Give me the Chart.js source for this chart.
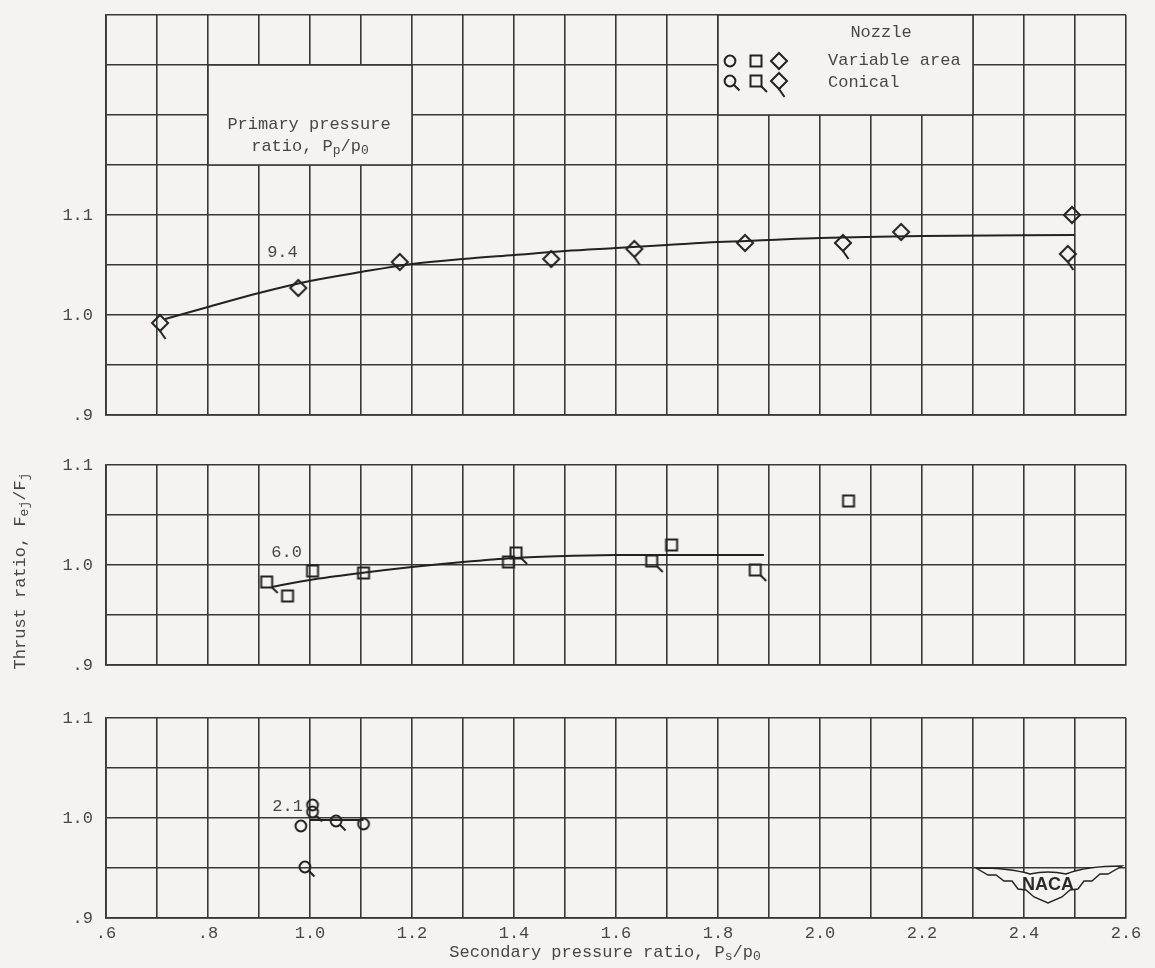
<!DOCTYPE html>
<html>
<head>
<meta charset="utf-8">
<script src="https://cdn.jsdelivr.net/npm/chart.js@4.4.0/dist/chart.umd.min.js"></script>
<style>
  html, body { margin: 0; padding: 0; background: #f6f2f1; }
  #wrap { position: relative; width: 1155px; height: 968px; overflow: hidden; }
  canvas { position: absolute; left: 0; }
</style>
</head>
<body>
<div id="wrap">
  <canvas id="top" width="1155" height="450" style="top:-10px"></canvas>
  <canvas id="mid" width="1155" height="265" style="top:425px"></canvas>
  <canvas id="bot" width="1155" height="278" style="top:690px"></canvas>
</div>
<script>
// axis ticks
const xTickValues = [0.6, 0.8, 1.0, 1.2, 1.4, 1.6, 1.8, 2.0, 2.2, 2.4, 2.6];
const xTickText = ['.6', '.8', '1.0', '1.2', '1.4', '1.6', '1.8', '2.0', '2.2', '2.4', '2.6'];
const yTickValues = [0.9, 1.0, 1.1];
const yTickText = ['.9', '1.0', '1.1'];

// primary pressure ratio 9.4 (diamonds)
const p94VarX = [0.977, 1.176, 1.473, 1.853, 2.159, 2.494];
const p94VarY = [1.027, 1.053, 1.056, 1.072, 1.083, 1.100];
const p94ConX = [0.706, 1.636, 2.045, 2.486];
const p94ConY = [0.992, 1.066, 1.072, 1.061];
const p94CurveX = [0.716, 0.8, 0.9, 1.0, 1.1, 1.2, 1.3, 1.4, 1.5, 1.6, 1.7, 1.8, 1.9, 2.0, 2.2, 2.5];
const p94CurveY = [0.996, 1.008, 1.022, 1.034, 1.043, 1.051, 1.056, 1.060, 1.064, 1.067, 1.070, 1.073, 1.075, 1.077, 1.079, 1.080];

// primary pressure ratio 6.0 (squares)
const p60VarX = [0.956, 1.005, 1.105, 1.389, 1.709, 2.056];
const p60VarY = [0.969, 0.994, 0.992, 1.003, 1.020, 1.064];
const p60ConX = [0.915, 1.404, 1.670, 1.873];
const p60ConY = [0.983, 1.012, 1.004, 0.995];
const p60CurveX = [0.925, 1.0, 1.1, 1.2, 1.3, 1.4, 1.5, 1.6, 1.7, 1.89];
const p60CurveY = [0.978, 0.985, 0.992, 0.998, 1.003, 1.007, 1.009, 1.010, 1.010, 1.010];

// primary pressure ratio 2.1 (circles)
const p21VarX = [1.005, 0.982, 1.105];
const p21VarY = [1.013, 0.992, 0.994];
const p21ConX = [1.005, 1.051, 0.990];
const p21ConY = [1.006, 0.997, 0.951];
const p21CurveX = [1.0, 1.105];
const p21CurveY = [0.998, 0.998];

const PAPER = '#f6f2f1';
const INK = '#222';
const GRID = '#383838';
const TEXT = '#474747';
const FONT = '17px "Liberation Mono"';
const SUB = '13px "Liberation Mono"';

const pts = (xs, ys) => xs.map((x, i) => ({ x: x, y: ys[i] }));

function marker(shape, tail) {
  const c = document.createElement('canvas');
  c.width = 40; c.height = 40;
  const g = c.getContext('2d');
  g.translate(20, 20);
  g.strokeStyle = INK;
  g.lineWidth = 2;
  g.beginPath();
  if (shape === 'circle') g.arc(0, 0, 5.4, 0, Math.PI * 2);
  else if (shape === 'square') g.rect(-5.5, -5.5, 11, 11);
  else { g.moveTo(0, -8); g.lineTo(8, 0); g.lineTo(0, 8); g.lineTo(-8, 0); g.closePath(); }
  g.stroke();
  if (tail) {
    g.beginPath();
    if (shape === 'circle') { g.moveTo(3.8, 3.8); g.lineTo(9.5, 9.5); }
    else if (shape === 'square') { g.moveTo(5.5, 5.5); g.lineTo(11, 11); }
    else { g.moveTo(0, 8); g.lineTo(5.5, 16); }
    g.stroke();
  }
  return c;
}

const marks = {
  circle: marker('circle', false), circleT: marker('circle', true),
  square: marker('square', false), squareT: marker('square', true),
  diamond: marker('diamond', false), diamondT: marker('diamond', true)
};

function drawParts(ctx, parts, x, y, align) {
  const w = parts.map(p => { ctx.font = p[1] ? SUB : FONT; return ctx.measureText(p[0]).width; });
  const total = w.reduce((a, b) => a + b, 0);
  let cx = align === 'center' ? x - total / 2 : (align === 'right' ? x - total : x);
  parts.forEach((p, i) => {
    ctx.font = p[1] ? SUB : FONT;
    ctx.fillText(p[0], cx, y + (p[1] ? 5 : 0));
    cx += w[i];
  });
}

const notesPlugin = {
  id: 'notes',
  beforeDatasetsDraw(chart, args, opts) {
    // grid is erased behind the legend and the label block, frame kept
    const ctx = chart.ctx, sx = chart.scales.x, sy = chart.scales.y;
    ctx.save();
    (opts.blanks || []).forEach(b => {
      const x0 = Math.round(sx.getPixelForValue(b[0])), x1 = Math.round(sx.getPixelForValue(b[1]));
      const y0 = Math.round(sy.getPixelForValue(b[3])), y1 = Math.round(sy.getPixelForValue(b[2]));
      ctx.fillStyle = PAPER;
      ctx.fillRect(x0, y0, x1 - x0, y1 - y0);
      ctx.strokeStyle = GRID;
      ctx.lineWidth = 1.6;
      ctx.strokeRect(x0, y0, x1 - x0, y1 - y0);
    });
    ctx.restore();
  },
  afterDraw(chart, args, opts) {
    const ctx = chart.ctx;
    const off = opts.offset || 0;
    ctx.save();
    ctx.fillStyle = TEXT;
    ctx.textBaseline = 'middle';
    ctx.textAlign = 'left';
    (opts.items || []).forEach(it => {
      let x = it.x, y = it.y - off;
      if (it.data) {
        x = chart.scales.x.getPixelForValue(it.x);
        y = chart.scales.y.getPixelForValue(it.y);
      }
      if (it.mark) {
        const m = marks[it.mark];
        ctx.drawImage(m, x - m.width / 2, y - m.height / 2);
      } else if (it.rotate) {
        ctx.save();
        ctx.translate(x, y);
        ctx.rotate(-Math.PI / 2);
        drawParts(ctx, it.parts, 0, 0, 'center');
        ctx.restore();
      } else {
        drawParts(ctx, it.parts, x, y, it.align || 'left');
      }
    });
    if (opts.logo) {
      // NACA wings badge
      const o = off;
      ctx.beginPath();
      ctx.moveTo(976, 868 - o);
      ctx.quadraticCurveTo(1010, 868 - o, 1030, 874 - o);
      ctx.quadraticCurveTo(1048, 870 - o, 1066, 874 - o);
      ctx.quadraticCurveTo(1086, 866 - o, 1122, 866 - o);
      ctx.lineTo(1108, 874 - o); ctx.lineTo(1100, 874 - o); ctx.lineTo(1092, 881 - o);
      ctx.lineTo(1084, 881 - o); ctx.lineTo(1078, 889 - o); ctx.lineTo(1070, 890 - o);
      ctx.lineTo(1062, 897 - o); ctx.lineTo(1048, 903 - o);
      ctx.lineTo(1034, 897 - o); ctx.lineTo(1026, 890 - o); ctx.lineTo(1018, 889 - o);
      ctx.lineTo(1012, 881 - o); ctx.lineTo(1004, 881 - o); ctx.lineTo(996, 875 - o);
      ctx.lineTo(988, 875 - o);
      ctx.closePath();
      ctx.fillStyle = PAPER;
      ctx.fill();
      ctx.strokeStyle = INK;
      ctx.lineWidth = 1.4;
      ctx.stroke();
      ctx.fillStyle = '#2a2a2a';
      ctx.font = 'bold 18px "Liberation Sans"';
      ctx.textAlign = 'center';
      ctx.fillText('NACA', 1048, 885 - o);
    }
    ctx.restore();
  }
};

function tickText(values, texts) {
  return v => {
    const i = values.findIndex(t => Math.abs(t - v) < 1e-6);
    return i >= 0 ? texts[i] : '';
  };
}

function panel(id, yMax, pad, showX, sets, notes) {
  const datasets = [
    { data: pts(sets.curveX, sets.curveY), showLine: true, borderColor: INK, borderWidth: 2,
      pointRadius: 0, tension: 0.4, cubicInterpolationMode: 'monotone', fill: false },
    { data: pts(sets.varX, sets.varY), pointStyle: marks[sets.shape], pointRadius: 6 },
    { data: pts(sets.conX, sets.conY), pointStyle: marks[sets.shape + 'T'], pointRadius: 6 }
  ];
  return new Chart(document.getElementById(id), {
    type: 'scatter',
    data: { datasets: datasets },
    options: {
      responsive: false,
      animation: false,
      events: [],
      layout: { padding: { top: pad[0], bottom: pad[1], left: 0, right: 29 } },
      plugins: { legend: { display: false }, tooltip: { enabled: false }, notes: notes },
      scales: {
        x: {
          type: 'linear', min: 0.6, max: 2.6,
          ticks: { stepSize: 0.1, autoSkip: false, maxRotation: 0, display: showX, padding: 5,
                   color: TEXT, font: { family: 'Liberation Mono', size: 17 },
                   callback: tickText(xTickValues, xTickText) },
          grid: { color: GRID, lineWidth: 1.6, drawTicks: false },
          border: { color: GRID, width: 1.8 },
          afterFit: s => { s.height = showX ? 50 : 0; }
        },
        y: {
          min: 0.9, max: yMax,
          ticks: { stepSize: 0.05, padding: 13, color: TEXT,
                   font: { family: 'Liberation Mono', size: 17 },
                   callback: tickText(yTickValues, yTickText) },
          grid: { color: GRID, lineWidth: 1.6, drawTicks: false },
          border: { color: GRID, width: 1.8 },
          afterFit: s => { s.width = 106; }
        }
      }
    },
    plugins: [notesPlugin]
  });
}

panel('top', 1.3, [25, 25], false,
  { shape: 'diamond', varX: p94VarX, varY: p94VarY, conX: p94ConX, conY: p94ConY, curveX: p94CurveX, curveY: p94CurveY },
  { offset: -10,
    blanks: [[1.8, 2.3, 1.2, 1.3], [0.8, 1.2, 1.15, 1.25]],
    items: [
    { x: 881, y: 32, parts: [['Nozzle', 0]], align: 'center' },
    { x: 828, y: 60, parts: [['Variable area', 0]] },
    { x: 828, y: 82, parts: [['Conical', 0]] },
    { x: 730, y: 61, mark: 'circle' }, { x: 756, y: 61, mark: 'square' }, { x: 779, y: 61, mark: 'diamond' },
    { x: 730, y: 81, mark: 'circleT' }, { x: 756, y: 81, mark: 'squareT' }, { x: 779, y: 81, mark: 'diamondT' },
    { x: 309, y: 124, parts: [['Primary pressure', 0]], align: 'center' },
    { x: 310, y: 146, parts: [['ratio, P', 0], ['p', 1], ['/p', 0], ['0', 1]], align: 'center' },
    { data: true, x: 0.946, y: 1.063, parts: [['9.4', 0]], align: 'center' }
  ] });

panel('mid', 1.1, [40, 25], false,
  { shape: 'square', varX: p60VarX, varY: p60VarY, conX: p60ConX, conY: p60ConY, curveX: p60CurveX, curveY: p60CurveY },
  { offset: 425, items: [
    { x: 20, y: 571, rotate: true, parts: [['Thrust ratio, F', 0], ['ej', 1], ['/F', 0], ['j', 1]] },
    { data: true, x: 0.954, y: 1.013, parts: [['6.0', 0]], align: 'center' }
  ] });

panel('bot', 1.1, [28, 0], true,
  { shape: 'circle', varX: p21VarX, varY: p21VarY, conX: p21ConX, conY: p21ConY, curveX: p21CurveX, curveY: p21CurveY },
  { offset: 690, logo: true, items: [
    { x: 605, y: 952, parts: [['Secondary pressure ratio, P', 0], ['s', 1], ['/p', 0], ['0', 1]], align: 'center' },
    { data: true, x: 0.956, y: 1.012, parts: [['2.1', 0]], align: 'center' }
  ] });
</script>
</body>
</html>
